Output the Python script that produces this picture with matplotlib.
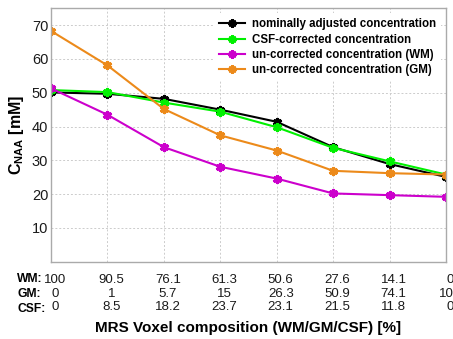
import matplotlib
matplotlib.use("Agg")
import matplotlib.pyplot as plt
import matplotlib.transforms as mtransforms

plt.rcParams['font.family'] = ['Liberation Sans', 'DejaVu Sans']
plt.rcParams['mathtext.fontset'] = 'custom'
plt.rcParams['mathtext.rm'] = 'Liberation Sans'
plt.rcParams['mathtext.bf'] = 'Liberation Sans:bold'

wm = ["100", "90.5", "76.1", "61.3", "50.6", "27.6", "14.1", "0"]
gm = ["0", "1", "5.7", "15", "26.3", "50.9", "74.1", "100"]
csf = ["0", "8.5", "18.2", "23.7", "23.1", "21.5", "11.8", "0"]

nominal = [50.1, 49.7, 48.2, 45.0, 41.4, 33.9, 28.9, 25.1]
csf_corr = [50.8, 50.2, 47.1, 44.4, 39.8, 33.7, 29.7, 25.8]
uncorr_wm = [51.3, 43.5, 33.9, 28.1, 24.6, 20.2, 19.7, 19.2]
uncorr_gm = [68.3, 58.1, 45.2, 37.4, 32.9, 26.9, 26.2, 25.8]

series = [
    ("nominally adjusted concentration", nominal, "black"),
    ("CSF-corrected concentration", csf_corr, "#00f000"),
    ("un-corrected concentration (WM)", uncorr_wm, "#cc00cc"),
    ("un-corrected concentration (GM)", uncorr_gm, "#ec8a1a"),
]

x = list(range(1, len(wm) + 1))

fig = plt.figure(figsize=(4.53, 3.39), dpi=100)
ax = fig.add_axes([51/453, 1 - 261.7/339, (446-51)/453, (261.7-8.3)/339])

for label, vals, col in series:
    ax.plot(x, vals, color=col, lw=1.5, marker=(6, 2, 0), ms=6.5, mew=2.2,
            label=label)

ax.set_xlim(1, 8)
ax.set_ylim(0, 75)
ax.set_yticks([10, 20, 30, 40, 50, 60, 70])
ax.set_xticks(x)
ax.set_xticklabels([f"{a}\n{b}\n{c}" for a, b, c in zip(wm, gm, csf)],
                   linespacing=1.16)
ax.tick_params(axis='both', length=0, colors='#1a1a1a')
ax.tick_params(axis='x', labelsize=9.5, pad=9)
ax.tick_params(axis='y', labelsize=10.5, pad=2)
offset = mtransforms.ScaledTranslation(4/100, 0, fig.dpi_scale_trans)
for lbl in ax.get_xticklabels():
    lbl.set_transform(lbl.get_transform() + offset)

ax.grid(True, ls=(0, (2, 2)), color='#cccccc', lw=0.7)
for s in ax.spines.values():
    s.set_color('#aaaaaa')
    s.set_linewidth(1.0)

ax.set_ylabel(r'$\mathbf{C_{NAA}}$ [mM]', fontsize=11.5, fontweight='bold',
              labelpad=4)
ax.set_xlabel('MRS Voxel composition (WM/GM/CSF) [%]', fontsize=11,
              fontweight='bold', labelpad=6)

fig.text(17/453, 1 - 273.5/339, "WM:\nGM:\nCSF:", ha='left', va='top',
         fontsize=8.7, fontweight='bold', linespacing=1.3)

leg = ax.legend(loc='upper right', frameon=True, fancybox=False,
                edgecolor='none', facecolor='white', framealpha=1,
                prop={'weight': 'bold', 'size': 8.3}, handlelength=2.3,
                handletextpad=0.6, labelspacing=0.3,
                borderaxespad=0.45, markerscale=0.9)

fig.savefig("out.png", dpi=100)
